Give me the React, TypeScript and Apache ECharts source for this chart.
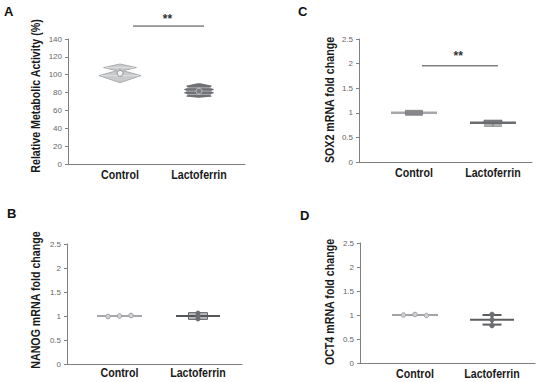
import React, { useEffect, useRef } from "react";
import * as echarts from "echarts";

// ---------- data ----------
const categories = ["Control", "Lactoferrin"];

// Panel A: relative metabolic activity (%), violin profiles [value, relative density]
const metabolicMax = 140;
const metabolicInterval = 20;
const controlViolinA: [number, number][] = [
  [91, 0], [99, 1], [104.5, 0.15], [108, 0.78], [112, 0],
];
const lactoViolinA: [number, number][] = [
  [74.8, 0.1], [76, 0.85], [77.9, 0.62], [79.7, 1], [81.6, 0.72],
  [83.5, 1], [85.4, 0.62], [87.3, 0.85], [89.9, 0.1],
];
const controlMedianA = 102.5;
const lactoMedianA = 81.6;
const lactoStripesA = [77.9, 81.6, 85.4];
const sigA = { from: 1.165, to: 2.063, level: 154.5, label: "**", labelX: 1.6, labelY: 162 };

// Panel B: NANOG
const nanogMeans = [1.0, 1.0];
const nanogControlPoints = [0.99, 1.0, 1.01];
const nanogLactoPoints = [0.94, 1.0, 1.06];
const nanogLactoBox = [0.93, 1.07];

// Panel C: SOX2
const sox2Means = [1.0, 0.8];
const sox2ControlBox = [0.95, 1.05];
const sox2LactoBox = [0.77, 0.85];
const sox2LactoLow = 0.73;
const sigC = { from: 1.1, to: 2.063, level: 1.955, label: "**", labelX: 1.56, labelY: 2.15 };

// Panel D: OCT4
const oct4Means = [1.0, 0.9];
const oct4ControlPoints = [1.0, 1.01, 0.99];
const oct4LactoPoints = [1.01, 0.9, 0.78];
const oct4LactoRange = [0.8, 1.0];

const foldMax = 2.5;
const foldInterval = 0.5;

const yTitles = [
  "Relative Metabolic Activity (%)",
  "NANOG mRNA fold change",
  "SOX2 mRNA fold change",
  "OCT4 mRNA fold change",
];

// ---------- styles ----------
const boldFont = "bold 13px 'Liberation Sans', Arial, sans-serif";
const narrowScale = 0.82;
const axisGray = "#808080";

function makeAxes(gridIndex: number, min: number, max: number, yMax: number, yInt: number) {
  const x = {
    type: "value",
    gridIndex,
    min,
    max,
    axisLine: { show: true, lineStyle: { color: axisGray, width: 1 } },
    axisTick: { show: false },
    splitLine: { show: false },
    axisLabel: { show: false },
  };
  const y = {
    type: "value",
    gridIndex,
    min: 0,
    max: yMax,
    interval: yInt,
    axisLine: { show: true, lineStyle: { color: axisGray, width: 1 } },
    axisTick: { show: true, length: 3, lineStyle: { color: axisGray } },
    splitLine: { show: false },
    axisLabel: { fontFamily: "'Liberation Sans', Arial, sans-serif", fontSize: 8, color: "#666", margin: 6 },
  };
  return { x, y };
}

function line(x1: number, y1: number, x2: number, y2: number, stroke: string, lineWidth: number) {
  return { type: "line", shape: { x1, y1, x2, y2 }, style: { stroke, lineWidth } };
}

function catLabels(api: any, dy: number) {
  return categories.map((c, i) => {
    const p = api.coord([i + 1, 0]);
    return {
      type: "text",
      x: p[0],
      y: p[1] + dy,
      scaleX: narrowScale,
      style: { text: c, x: 0, y: 0, align: "center", verticalAlign: "middle", font: boldFont, fill: "#1a1a1a" },
    };
  });
}

function sigMarks(api: any, s: typeof sigA) {
  const a = api.coord([s.from, s.level]);
  const b = api.coord([s.to, s.level]);
  const t = api.coord([s.labelX, s.labelY]);
  return [
    line(a[0], a[1], b[0], b[1], "#444", 1),
    {
      type: "text",
      style: {
        text: s.label, x: t[0], y: t[1], align: "center", verticalAlign: "middle",
        font: "bold 12px 'Liberation Sans', Arial, sans-serif", fill: "#333",
      },
    },
  ];
}

function violin(api: any, xv: number, profile: [number, number][], half: number) {
  const cx = api.coord([xv, 0])[0];
  const right = profile.map(([v, r]) => [cx + r * half, api.coord([xv, v])[1]]);
  const left = profile.slice().reverse().map(([v, r]) => [cx - r * half, api.coord([xv, v])[1]]);
  return [...right, ...left];
}

const renderA = (_p: any, api: any) => {
  const ch: any[] = [];
  const c1 = api.coord([1, controlMedianA]);
  ch.push({ type: "polygon", shape: { points: violin(api, 1, controlViolinA, 21) }, style: { fill: "#c9cacc", stroke: "#9d9fa2", lineWidth: 0.8 } });
  const w1 = api.coord([1, controlViolinA[1][0]]);
  const w2 = api.coord([1, controlViolinA[3][0]]);
  ch.push(line(w1[0] - 19, w1[1], w1[0] + 19, w1[1], "#dedfe0", 1));
  ch.push(line(w2[0] - 14, w2[1], w2[0] + 14, w2[1], "#dedfe0", 1));
  const st = api.coord([1, 107]);
  ch.push(line(st[0], st[1], st[0], c1[1] - 3, "#8f9194", 1));
  ch.push({ type: "circle", shape: { cx: c1[0], cy: c1[1], r: 3 }, style: { fill: "#f2f2f2", stroke: "#8f9194", lineWidth: 1 } });

  ch.push({ type: "polygon", shape: { points: violin(api, 2, lactoViolinA, 14.5) }, style: { fill: "#6f7175", stroke: "#5f6165", lineWidth: 0.8 } });
  lactoStripesA.forEach((v) => {
    const p = api.coord([2, v]);
    ch.push(line(p[0] - 12, p[1], p[0] + 12, p[1], "#a9abae", 1));
  });
  const c2 = api.coord([2, lactoMedianA]);
  ch.push({ type: "circle", shape: { cx: c2[0], cy: c2[1], r: 3 }, style: { fill: "#7b7d81", stroke: "#c4c5c7", lineWidth: 1 } });
  ch.push(...sigMarks(api, sigA));
  ch.push(...catLabels(api, 11));
  return { type: "group", children: ch };
};

const renderB = (_p: any, api: any) => {
  const ch: any[] = [];
  const m1 = api.coord([1, nanogMeans[0]]);
  ch.push(line(m1[0] - 22.5, m1[1], m1[0] + 22.5, m1[1], "#a7a8ab", 2));
  nanogControlPoints.forEach((v, i) => {
    const p = api.coord([1, v]);
    ch.push({ type: "circle", shape: { cx: p[0] + (i - 1) * 11.5, cy: p[1], r: 2.3 }, style: { fill: "#d4d4d6", stroke: "#9a9b9e", lineWidth: 1 } });
  });
  const m2 = api.coord([2, nanogMeans[1]]);
  const bt = api.coord([2, nanogLactoBox[1]]);
  const bb = api.coord([2, nanogLactoBox[0]]);
  ch.push({ type: "rect", shape: { x: bt[0] - 9.5, y: bt[1], width: 19, height: bb[1] - bt[1] }, style: { fill: "#b9babd", stroke: "#626367", lineWidth: 1 } });
  ch.push(line(m2[0] - 22, m2[1], m2[0] + 22, m2[1], "#55565a", 2));
  ch.push(line(bt[0], bt[1], bb[0], bb[1], "#626367", 1.5));
  nanogLactoPoints.forEach((v) => {
    const p = api.coord([2, v]);
    ch.push({ type: "circle", shape: { cx: p[0], cy: p[1], r: 2.3 }, style: { fill: "#6c6d71", stroke: "#6c6d71", lineWidth: 0.5 } });
  });
  ch.push(...catLabels(api, 9));
  return { type: "group", children: ch };
};

const renderC = (_p: any, api: any) => {
  const ch: any[] = [];
  const m1 = api.coord([1, sox2Means[0]]);
  ch.push(line(m1[0] - 23, m1[1], m1[0] + 23, m1[1], "#a6a7aa", 2.5));
  const t1 = api.coord([1, sox2ControlBox[1]]);
  const b1 = api.coord([1, sox2ControlBox[0]]);
  ch.push({ type: "rect", shape: { x: t1[0] - 8.5, y: t1[1], width: 17, height: b1[1] - t1[1] }, style: { fill: "#87888b", stroke: "#7a7b7e", lineWidth: 0.8 } });
  const m2 = api.coord([2, sox2Means[1]]);
  const t2 = api.coord([2, sox2LactoBox[1]]);
  const b2 = api.coord([2, sox2LactoBox[0]]);
  const lo = api.coord([2, sox2LactoLow]);
  ch.push(line(lo[0] - 9, lo[1], lo[0] + 9, lo[1], "#8b8c8f", 1.5));
  ch.push(line(lo[0], lo[1], b2[0], b2[1], "#6b6c70", 1));
  ch.push({ type: "rect", shape: { x: t2[0] - 9, y: t2[1], width: 18, height: b2[1] - t2[1] }, style: { fill: "#7e7f83", stroke: "#616266", lineWidth: 0.8 } });
  ch.push(line(m2[0] - 23, m2[1], m2[0] + 23, m2[1], "#6b6c70", 2.5));
  ch.push(...sigMarks(api, sigC));
  ch.push(...catLabels(api, 11));
  return { type: "group", children: ch };
};

const renderD = (_p: any, api: any) => {
  const ch: any[] = [];
  const m1 = api.coord([1, oct4Means[0]]);
  ch.push(line(m1[0] - 23, m1[1], m1[0] + 23, m1[1], "#a2a3a6", 2));
  oct4ControlPoints.forEach((v, i) => {
    const p = api.coord([1, v]);
    ch.push({ type: "circle", shape: { cx: p[0] + (i - 1) * 11.5, cy: p[1], r: 2.3 }, style: { fill: "#cfcfd1", stroke: "#a2a3a6", lineWidth: 1 } });
  });
  const m2 = api.coord([2, oct4Means[1]]);
  const hi = api.coord([2, oct4LactoRange[1]]);
  const lo = api.coord([2, oct4LactoRange[0]]);
  ch.push(line(m2[0] - 22, m2[1], m2[0] + 22, m2[1], "#5c5d61", 2));
  ch.push(line(hi[0] - 9.5, hi[1], hi[0] + 9.5, hi[1], "#5c5d61", 2));
  ch.push(line(lo[0] - 9.5, lo[1], lo[0] + 9.5, lo[1], "#5c5d61", 2));
  const pTop = api.coord([2, oct4LactoPoints[0]]);
  const pBot = api.coord([2, oct4LactoPoints[2]]);
  ch.push(line(pTop[0], pTop[1], pBot[0], pBot[1], "#5c5d61", 2));
  oct4LactoPoints.forEach((v) => {
    const p = api.coord([2, v]);
    ch.push({ type: "circle", shape: { cx: p[0], cy: p[1], r: 2.5 }, style: { fill: "#6d6e72", stroke: "#6d6e72", lineWidth: 0.5 } });
  });
  ch.push(...catLabels(api, 10.5));
  return { type: "group", children: ch };
};

export default function App() {
  const ref = useRef<HTMLDivElement>(null);
  useEffect(() => {
    if (!ref.current) return;
    const chart = echarts.init(ref.current, null, { renderer: "svg" });
    const A = makeAxes(0, 0.342, 2.582, metabolicMax, metabolicInterval);
    const B = makeAxes(1, 0.331, 2.561, foldMax, foldInterval);
    const C = makeAxes(2, 0.304, 2.494, foldMax, foldInterval);
    const D = makeAxes(3, 0.286, 2.558, foldMax, foldInterval);
    const letter = (t: string, x: number, y: number) => ({
      type: "text", left: x, top: y,
      style: { text: t, font: boldFont, fill: "#111" },
    });
    const title = (t: string, x: number, y: number) => ({
      type: "text", x, y, rotation: Math.PI / 2, scaleX: narrowScale,
      style: { text: t, x: 0, y: 0, align: "center", verticalAlign: "middle", font: boldFont, fill: "#1a1a1a" },
    });
    chart.setOption({
      animation: false,
      backgroundColor: "#fff",
      grid: [
        { left: 68, top: 39, width: 177, height: 125 },
        { left: 67, top: 244, width: 175, height: 120 },
        { left: 359, top: 39, width: 173, height: 123 },
        { left: 360, top: 243, width: 175, height: 120 },
      ],
      xAxis: [A.x, B.x, C.x, D.x],
      yAxis: [A.y, B.y, C.y, D.y],
      graphic: [
        letter("A", 4, 5), letter("B", 7, 207), letter("C", 298, 5), letter("D", 300, 209),
        title(yTitles[0], 36, 96), title(yTitles[1], 36, 300),
        title(yTitles[2], 330, 100), title(yTitles[3], 330, 302),
      ],
      series: [
        { type: "custom", xAxisIndex: 0, yAxisIndex: 0, data: [[1, 0]], renderItem: renderA, silent: true },
        { type: "custom", xAxisIndex: 1, yAxisIndex: 1, data: [[1, 0]], renderItem: renderB, silent: true },
        { type: "custom", xAxisIndex: 2, yAxisIndex: 2, data: [[1, 0]], renderItem: renderC, silent: true },
        { type: "custom", xAxisIndex: 3, yAxisIndex: 3, data: [[1, 0]], renderItem: renderD, silent: true },
      ],
    });
    return () => chart.dispose();
  }, []);
  return <div ref={ref} style={{ position: "absolute", left: 0, top: 0, width: 550, height: 382, background: "#fff" }} />;
}
